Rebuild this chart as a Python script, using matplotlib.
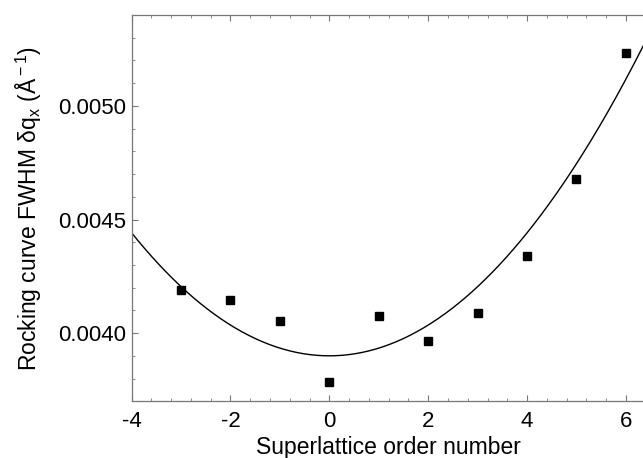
import numpy as np
import matplotlib
matplotlib.use('Agg')
import matplotlib.pyplot as plt
from matplotlib.ticker import MultipleLocator, FormatStrFormatter

plt.rcParams['font.family'] = ['Liberation Sans', 'DejaVu Sans']
plt.rcParams['mathtext.fontset'] = 'custom'
plt.rcParams['mathtext.rm'] = 'Liberation Sans'
plt.rcParams['mathtext.it'] = 'Liberation Sans:italic'
plt.rcParams['axes.unicode_minus'] = False

# superlattice order number vs rocking curve FWHM
order = np.array([-3, -2, -1, 0, 1, 2, 3, 4, 5, 6])
fwhm = np.array([0.004189, 0.004148, 0.004053, 0.003785, 0.004075,
                 0.003966, 0.004090, 0.004339, 0.004677, 0.005232])

# fit y = c + a*n^2
A = np.column_stack([np.ones_like(order, dtype=float), order.astype(float) ** 2])
(c0, a2), *_ = np.linalg.lstsq(A, fwhm, rcond=None)
xfit = np.linspace(-4, 6.4, 300)
yfit = c0 + a2 * xfit ** 2

fig = plt.figure(figsize=(6.43, 4.58), dpi=100)
ax = fig.add_axes([0.2047, 0.1238, 0.7995, 0.8434])

ax.plot(xfit, yfit, '-', color='black', lw=1.0)
ax.plot(order, fwhm, 's', color='black', ms=5.5, mec='black')

ax.set_xlim(-4, 6.4)
ax.set_ylim(0.0037, 0.0054)
ax.xaxis.set_major_locator(MultipleLocator(2))
ax.xaxis.set_minor_locator(MultipleLocator(0.4))
ax.yaxis.set_major_locator(MultipleLocator(0.0005))
ax.yaxis.set_minor_locator(MultipleLocator(0.0001))
ax.yaxis.set_major_formatter(FormatStrFormatter('%.4f'))

for s in ax.spines.values():
    s.set_color('#777777')
    s.set_linewidth(0.9)
ax.tick_params(which='both', direction='in', top=True, right=False,
               color='#777777', labelsize=16)
ax.tick_params(axis='x', pad=7)
ax.tick_params(axis='y', pad=4)
ax.tick_params(which='major', length=4)
ax.tick_params(which='minor', length=2.5)

ax.set_xlabel('Superlattice order number', fontsize=16.5, labelpad=3)
ax.set_ylabel('Rocking curve FWHM \u03b4q$_{\\rm x}$ (\u00c5$^{\\rm -1}$)',
              fontsize=16.5, labelpad=10)

plt.savefig('out.png', dpi=100)
